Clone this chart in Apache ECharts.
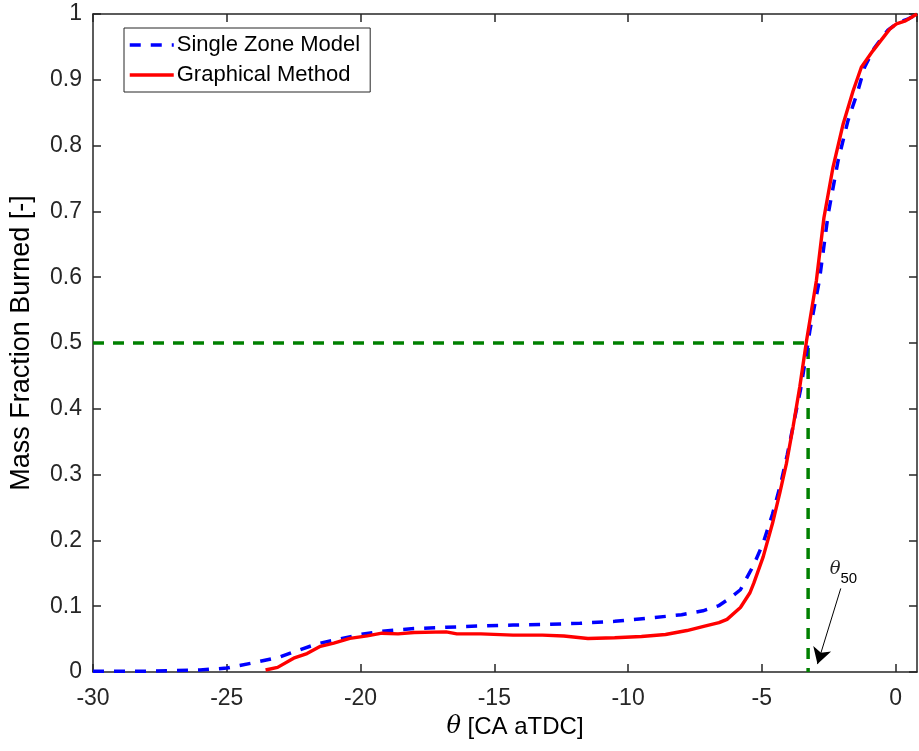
<!DOCTYPE html>
<html>
<head>
<meta charset="utf-8">
<script src="https://cdn.jsdelivr.net/npm/echarts@6/dist/echarts.min.js"></script>
<style>html,body{margin:0;padding:0;background:#fff}#c{width:919px;height:751px}</style>
</head>
<body>
<div id="c"></div>
<script>
// ---- Data ----
const szX = [-30, -28, -27, -26, -25, -24, -23, -22.4, -21.6, -20.8, -20, -19.2, -18, -16.8, -15.5, -14.3, -13, -11.8, -10.5, -9.3, -8, -7.2, -6.6, -6.2, -5.8, -5.3, -4.95, -4.6, -4.3, -4.05, -3.8, -3.55, -3.35, -3.2, -2.85, -2.52, -2.15, -1.78, -1.41, -1.16, -0.8, -0.3, 0.1, 0.5, 0.8];
const szY = [0.001, 0.001, 0.002, 0.003, 0.006, 0.014, 0.023, 0.032, 0.043, 0.050, 0.057, 0.062, 0.066, 0.068, 0.070, 0.0714, 0.0725, 0.074, 0.077, 0.0816, 0.087, 0.093, 0.101, 0.112, 0.125, 0.163, 0.196, 0.24, 0.285, 0.33, 0.38, 0.43, 0.48, 0.52, 0.595, 0.696, 0.777, 0.838, 0.883, 0.919, 0.948, 0.975, 0.987, 0.993, 1.0];
const gmX = [-23.55, -23.1, -22.5, -22.0, -21.5, -21.0, -20.4, -19.75, -19.2, -18.6, -18.0, -16.8, -16.4, -15.5, -14.3, -13.2, -12.4, -11.5, -10.5, -9.5, -8.6, -7.8, -7.1, -6.6, -6.3, -5.8, -5.45, -5.3, -4.95, -4.6, -4.33, -4.08, -3.83, -3.58, -3.33, -2.96, -2.68, -2.34, -1.96, -1.59, -1.28, -0.85, -0.22, 0.03, 0.34, 0.8];
const gmY = [0.003, 0.007, 0.021, 0.028, 0.039, 0.044, 0.051, 0.055, 0.059, 0.058, 0.060, 0.061, 0.058, 0.058, 0.056, 0.056, 0.0547, 0.051, 0.052, 0.054, 0.057, 0.063, 0.070, 0.075, 0.080, 0.098, 0.12, 0.135, 0.175, 0.226, 0.272, 0.317, 0.373, 0.434, 0.503, 0.595, 0.69, 0.767, 0.833, 0.883, 0.919, 0.944, 0.977, 0.985, 0.989, 1.0];
const seriesNames = ['Single Zone Model', 'Graphical Method'];
const theta50 = -3.27;       // crank angle at 50% burned
const mfb50 = 0.5;
const xMin = -30, xMax = 0.8, xStep = 5;
const yMin = 0, yMax = 1, yStep = 0.1;
const arrowFrom = [-2.05, 0.127];
const arrowTo = [-2.92, 0.012];
const thetaLabelAt = [-2.26, 0.1565];
const subLabelAt = [-1.75, 0.141];

const zip = (xs, ys) => xs.map((x, i) => [x, ys[i]]);
const axisColor = '#262626';
const font = 'Liberation Sans, Arial, sans-serif';

const chart = echarts.init(document.getElementById('c'), null, {renderer: 'canvas'});
const fmtX = v => (Math.abs(v / xStep - Math.round(v / xStep)) < 1e-6 ? String(Math.round(v)) : '');
const fmtY = v => String(Math.round(v * 10) / 10);

chart.setOption({
  animation: false,
  backgroundColor: '#fff',
  grid: {left: 92, right: 2, top: 14, bottom: 79, containLabel: false},
  legend: {
    orient: 'vertical', left: 124, top: 28,
    data: seriesNames.map(n => ({name: n, itemStyle: {opacity: 0}})),
    itemWidth: 44, itemHeight: 14, itemGap: 8,
    padding: [6, 10, 6, 4],
    lineStyle: {width: 3.5},
    backgroundColor: '#fff', borderColor: axisColor, borderWidth: 1, borderRadius: 0,
    textStyle: {fontFamily: font, fontSize: 22, color: '#000', lineHeight: 22, padding: [0, 0, 0, -2]}
  },
  xAxis: [{
    type: 'value', min: xMin, max: xMax, interval: xStep, position: 'bottom',
    axisLine: {show: true, onZero: false, lineStyle: {color: axisColor, width: 1.5}},
    axisTick: {show: true, inside: true, length: 8, lineStyle: {color: axisColor, width: 1.5}},
    axisLabel: {formatter: fmtX, color: axisColor, fontFamily: font, fontSize: 23, margin: 15, showMaxLabel: false},
    splitLine: {show: false},
    name: '{t|θ} [CA aTDC]', nameLocation: 'middle', nameGap: 35,
    nameTextStyle: {fontFamily: font, fontSize: 24, color: '#000', padding: [0, 0, 0, 20],
      rich: {t: {fontFamily: 'DejaVu Serif, Liberation Serif, serif', fontStyle: 'italic', fontSize: 24, color: '#000'}}}
  }, {
    type: 'value', min: xMin, max: xMax, interval: xStep, position: 'top',
    axisLine: {show: true, onZero: false, lineStyle: {color: axisColor, width: 1.5}},
    axisTick: {show: true, inside: true, length: 8, lineStyle: {color: axisColor, width: 1.5}},
    axisLabel: {show: false}, splitLine: {show: false}
  }],
  yAxis: [{
    type: 'value', min: yMin, max: yMax, interval: yStep, position: 'left',
    axisLine: {show: true, onZero: false, lineStyle: {color: axisColor, width: 1.5}},
    axisTick: {show: true, inside: true, length: 8, lineStyle: {color: axisColor, width: 1.5}},
    axisLabel: {formatter: fmtY, color: axisColor, fontFamily: font, fontSize: 23, margin: 11},
    splitLine: {show: false},
    name: 'Mass Fraction Burned [-]', nameLocation: 'middle', nameGap: 58, nameRotate: 90,
    nameTextStyle: {fontFamily: font, fontSize: 27, color: '#000'}
  }, {
    type: 'value', min: yMin, max: yMax, interval: yStep, position: 'right',
    axisLine: {show: true, onZero: false, lineStyle: {color: axisColor, width: 1.5}},
    axisTick: {show: true, inside: true, length: 8, lineStyle: {color: axisColor, width: 1.5}},
    axisLabel: {show: false}, splitLine: {show: false}
  }],
  series: [
    {
      name: 'theta50', type: 'line', xAxisIndex: 0, yAxisIndex: 0, symbol: 'none', silent: true,
      data: [[xMin, mfb50], [theta50, mfb50], [theta50, yMin]],
      lineStyle: {color: '#008000', width: 3.5, type: [11, 9]},
      z: 1,
      markLine: {
        silent: true, animation: false,
        symbol: ['none', 'arrow'], symbolSize: [14, 16],
        lineStyle: {color: '#000', width: 1, type: 'solid'},
        label: {show: false},
        data: [[{coord: arrowFrom}, {coord: arrowTo}]]
      },
      markPoint: {
        silent: true, symbol: 'circle', symbolSize: 0,
        data: [
          {coord: thetaLabelAt, label: {show: true, position: 'inside', formatter: 'θ', fontFamily: 'DejaVu Serif, Liberation Serif, serif', fontStyle: 'italic', fontSize: 18, color: '#262626'}},
          {coord: subLabelAt, label: {show: true, position: 'inside', formatter: '50', fontFamily: font, fontSize: 15, color: '#000'}}
        ]
      }
    },
    {
      name: seriesNames[0], type: 'line', symbol: 'none', showSymbol: false, z: 3,
      data: zip(szX, szY),
      lineStyle: {color: '#0000ff', width: 3.5, type: [11, 10]},
      itemStyle: {color: '#0000ff'}
    },
    {
      name: seriesNames[1], type: 'line', symbol: 'none', showSymbol: false, z: 4,
      data: zip(gmX, gmY),
      lineStyle: {color: '#ff0000', width: 3.4, type: 'solid'},
      itemStyle: {color: '#ff0000'}
    }
  ]
});
</script>
</body>
</html>
